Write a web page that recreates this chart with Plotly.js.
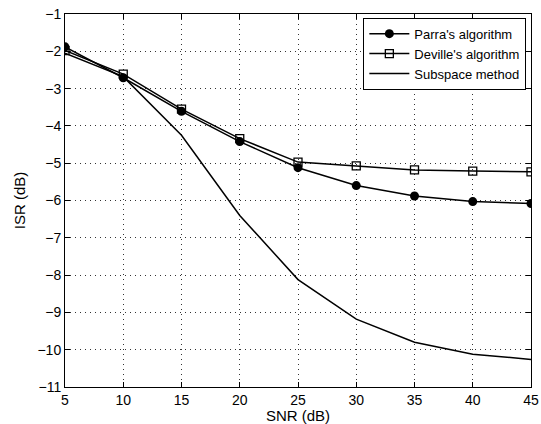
<!DOCTYPE html>
<html><head><meta charset="utf-8">
<script src="https://cdn.plot.ly/plotly-3.0.1.min.js"></script>
<style>html,body{margin:0;padding:0;background:#fff}#c{width:541px;height:424px}</style>
</head><body><div id="c"></div>
<script>
const snr = [5, 10, 15, 20, 25, 30, 35, 40, 45];
const parra = [-1.88, -2.71, -3.61, -4.42, -5.12, -5.60, -5.88, -6.03, -6.08];
const deville = [-1.98, -2.61, -3.55, -4.34, -4.97, -5.07, -5.18, -5.21, -5.23];
const subspace = [-2.05, -2.68, -4.25, -6.40, -8.12, -9.18, -9.80, -10.12, -10.26];
const names = ["Parra's algorithm", "Deville's algorithm", "Subspace method"];
const xTicks = [5, 10, 15, 20, 25, 30, 35, 40, 45];
const yTicks = [-11, -10, -9, -8, -7, -6, -5, -4, -3, -2, -1];

const traces = [
  {x: snr, y: parra, name: names[0], mode: 'lines+markers', type: 'scatter',
   line: {color: '#000', width: 1.5}, marker: {symbol: 'circle', size: 9, color: '#000'}},
  {x: snr, y: deville, name: names[1], mode: 'lines+markers', type: 'scatter',
   line: {color: '#000', width: 1.5}, marker: {symbol: 'square-open', size: 8, color: '#000', line: {width: 1.3, color: '#000'}}},
  {x: snr, y: subspace, name: names[2], mode: 'lines', type: 'scatter',
   line: {color: '#000', width: 1.5}}
];
const axisCommon = {
  showline: true, linecolor: '#000', linewidth: 1, mirror: 'ticks',
  ticks: 'inside', ticklen: 5, tickcolor: '#000',
  showgrid: true, gridcolor: '#333', griddash: '1px,4px', gridwidth: 1,
  zeroline: false, ticklabeloverflow: 'allow',
  tickfont: {family: 'Liberation Sans, Arial, sans-serif', size: 14, color: '#000'}
};
const layout = {
  width: 541, height: 424,
  margin: {l: 65, r: 10, t: 14, b: 37},
  paper_bgcolor: '#fff', plot_bgcolor: '#fff',
  font: {family: 'Liberation Sans, Arial, sans-serif', color: '#000'},
  xaxis: Object.assign({}, axisCommon, {range: [5, 45], tickvals: xTicks, ticktext: xTicks.map(String),
    automargin: false, title: {text: 'SNR (dB)', font: {size: 15}, standoff: 2}}),
  yaxis: Object.assign({}, axisCommon, {range: [-11, -1], tickvals: yTicks, ticktext: yTicks.map(v => '\u2212' + Math.abs(v)),
    automargin: false, title: {text: 'ISR (dB)', font: {size: 15}, standoff: 8}}),
  showlegend: true,
  legend: {x: 0.99, y: 0.99, xanchor: 'right', yanchor: 'top', bgcolor: '#fff',
    bordercolor: '#000', borderwidth: 1, font: {size: 13, color: '#000'},
    tracegroupgap: 0, itemwidth: 40}
};
Plotly.newPlot('c', traces, layout, {displayModeBar: false, staticPlot: true});
</script></body></html>
